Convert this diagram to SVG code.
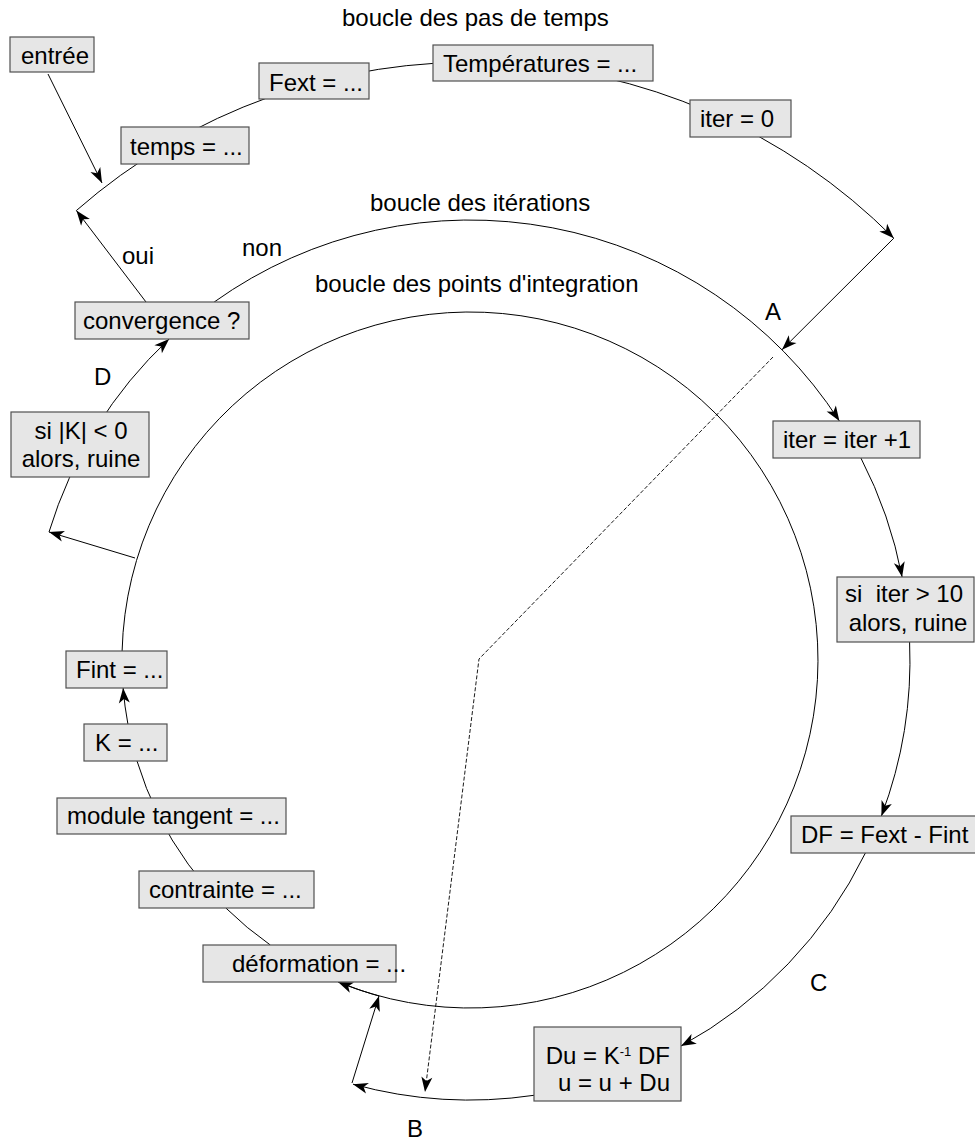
<svg xmlns="http://www.w3.org/2000/svg" width="975" height="1140" viewBox="0 0 975 1140">
  <defs>
    <marker id="arrow" markerUnits="userSpaceOnUse" markerWidth="20" markerHeight="14" viewBox="-16 -7 18 14" refX="0" refY="0" orient="auto">
      <path d="M0,0 L-15,-5.5 L-11,0 L-15,5.5 Z" fill="#000"/>
    </marker>
    <style>
      .box { fill: #e6e6e6; stroke: #505050; stroke-width: 1.2; }
      .lbl { font-family: "Liberation Sans", Arial, sans-serif; font-size: 24px; fill: #000; }
      .ln { fill: none; stroke: #000; stroke-width: 1; }
      .arr { marker-end: url(#arrow); }
      .dash { stroke-dasharray: 4 2; stroke-width: 0.9; }
    </style>
  </defs>
  <rect width="975" height="1140" fill="#fff"/>

  <!-- loop titles and markers A-D -->
  <g id="labels" class="lbl">
    <text x="342" y="26">boucle des pas de temps</text>
    <text x="370" y="211">boucle des itérations</text>
    <text x="315" y="292">boucle des points d'integration</text>
    <text x="242" y="256">non</text>
    <text x="122" y="264">oui</text>
    <text x="94" y="385">D</text>
    <text x="765" y="320">A</text>
    <text x="810" y="991">C</text>
    <text x="407" y="1137">B</text>
  </g>

  <!-- connectors: three concentric loops around (470,660) plus radial links -->
  <g id="connectors">
    <!-- time-step loop -->
    <path class="ln arr" d="M76.4,210.5 A597.5,597.5 0 0 1 893.8,238.2"/>
    <!-- iteration loop -->
    <path class="ln arr" d="M214.2,302 A440,440 0 0 1 839.4,421"/>
    <path class="ln arr" d="M860.9,458 A440,440 0 0 1 902.1,577"/>
    <path class="ln arr" d="M909.6,642 A440,440 0 0 1 881.4,816"/>
    <path class="ln arr" d="M865.4,853 A440,440 0 0 1 681,1046"/>
    <path class="ln arr" d="M534,1095.3 A440,440 0 0 1 353,1084.2"/>
    <path class="ln arr" d="M49,532 A440,440 0 0 1 169.1,339"/>
    <!-- integration-point loop -->
    <path class="ln arr" d="M122.1,651 A348,348 0 1 1 338,982"/>
    <path class="ln" stroke-width="2" d="M379,996 A348,348 0 0 1 345,984.6"/>
    <path class="ln" d="M270.3,945 A348,348 0 0 1 137,761"/>
    <path class="ln arr" d="M127.9,724 A348,348 0 0 1 123.1,688"/>
    <!-- radial links -->
    <path class="ln arr" d="M48,74 L102,183"/>
    <path class="ln arr" d="M146,302 L76.4,210.5"/>
    <path class="ln arr" d="M893.8,238.2 L782,349.7"/>
    <path class="ln arr" d="M135,558 L49,532"/>
    <path class="ln arr" d="M352,1083 L379,996"/>
    <path class="ln dash arr" d="M773,357 L479,659 L425,1092"/>
  </g>

  <!-- nodes -->
  <g id="entree"><rect class="box" x="10" y="37" width="84" height="35"/><text class="lbl" x="21" y="64">entrée</text></g>
  <g id="temps"><rect class="box" x="121" y="127" width="128" height="37"/><text class="lbl" x="130" y="155">temps = ...</text></g>
  <g id="fext"><rect class="box" x="259" y="63" width="110" height="36"/><text class="lbl" x="269" y="91">Fext = ...</text></g>
  <g id="temperatures"><rect class="box" x="433" y="45" width="220" height="36"/><text class="lbl" x="443" y="72">Températures = ...</text></g>
  <g id="iter0"><rect class="box" x="690" y="100" width="101" height="37"/><text class="lbl" x="700" y="127">iter = 0</text></g>
  <g id="convergence"><rect class="box" x="75" y="302" width="174" height="37"/><text class="lbl" x="83" y="329">convergence ?</text></g>
  <g id="ruine-k"><rect class="box" x="11" y="412" width="138" height="65"/>
    <text class="lbl" x="81" y="439" text-anchor="middle">si |K| &lt; 0</text>
    <text class="lbl" x="81" y="467" text-anchor="middle">alors, ruine</text></g>
  <g id="iter-inc"><rect class="box" x="773" y="421" width="147" height="37"/><text class="lbl" x="783" y="448">iter = iter +1</text></g>
  <g id="ruine-iter"><rect class="box" x="837" y="577" width="137" height="65"/>
    <text class="lbl" x="904" y="602" text-anchor="middle" xml:space="preserve">si  iter &gt; 10</text>
    <text class="lbl" x="908" y="631" text-anchor="middle">alors, ruine</text></g>
  <g id="df"><rect class="box" x="791" y="816" width="186" height="37"/><text class="lbl" x="801" y="843">DF = Fext - Fint</text></g>
  <g id="du"><rect class="box" x="534" y="1027" width="147" height="74"/>
    <text class="lbl" x="670" y="1064" text-anchor="end">Du = K<tspan font-size="13" dy="-8">-1</tspan><tspan dy="8"> DF</tspan></text>
    <text class="lbl" x="670" y="1091" text-anchor="end">u = u + Du</text></g>
  <g id="fint"><rect class="box" x="66" y="651" width="101" height="37"/><text class="lbl" x="76" y="678">Fint = ...</text></g>
  <g id="k"><rect class="box" x="84" y="724" width="83" height="37"/><text class="lbl" x="95" y="751">K = ...</text></g>
  <g id="module"><rect class="box" x="57" y="798" width="229" height="36"/><text class="lbl" x="67" y="824">module tangent = ...</text></g>
  <g id="contrainte"><rect class="box" x="139" y="871" width="175" height="37"/><text class="lbl" x="149" y="898">contrainte = ...</text></g>
  <g id="deformation"><rect class="box" x="203" y="945" width="193" height="37"/><text class="lbl" x="232" y="972">déformation = ...</text></g>
</svg>
